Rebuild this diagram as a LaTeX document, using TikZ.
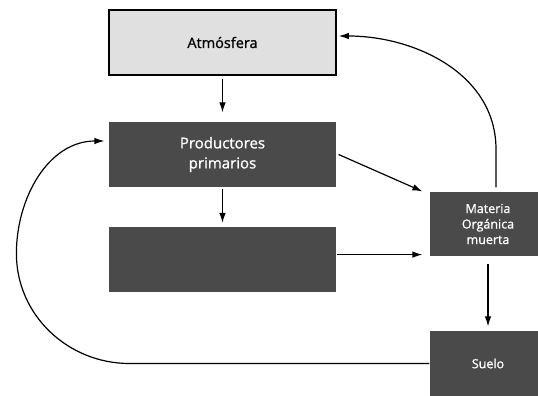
\documentclass[tikz,border=0pt]{standalone}
\usepackage{fontspec}
\setmainfont{Open Sans}[RawFeature={embolden=1}]
\usetikzlibrary{arrows.meta}

\begin{document}
\begin{tikzpicture}[x=1pt,y=1pt,line width=1.2pt,
  >={Latex[length=10pt,width=6.5pt]},
  caja/.style={fill=black!71,text=white,inner sep=0pt,align=center},
  ancha/.style={caja,minimum width=227pt,minimum height=65pt,font=\fontsize{15}{20}\selectfont},
  chica/.style={caja,minimum width=116pt,minimum height=65pt,font=\fontsize{12.5}{15.5}\selectfont}]
  \useasboundingbox (0,0) rectangle (538,396);
  \node[draw,fill=black!12,line width=1.6pt,minimum width=227pt,minimum height=65pt,
    inner sep=0pt,font=\fontsize{14.5}{18}\selectfont] (atm) at (222.5,353.5) {Atmósfera};
  \node[ancha] (prod) at (222.5,241.5) {Productores\\primarios};
  \node[ancha] (cons) at (222.5,136) {};
  \node[chica,minimum height=64pt] (mat) at (488,172) {Materia\\Orgánica\\muerta};
  \node[chica] (suelo) at (488,32.5) {Suelo};
  \coordinate (m1) at ([yshift=2pt]mat.south west);
\draw[->, shorten <=3pt, shorten >=9pt] (atm) -- (prod);
\draw[->, shorten <=1pt, shorten >=4pt] (prod) -- (cons);
\draw[->] ([xshift=2pt]prod.east) -- ([xshift=-7pt]mat.north west);
\draw[->, shorten >=7pt] (cons.east |- m1) -- (m1);
\draw[->, shorten <=7pt, shorten >=4pt] (mat) -- (suelo);
\draw[->] ([xshift=8pt,yshift=4pt]mat.north) -- ++(0,38)
  to[out=90,in=0] ([xshift=2pt,yshift=6.5pt]atm.east);
\draw[->] (suelo.west) -- ++(-300,0) to[out=180,in=270] ++(-113,110)
  to[out=90,in=180] ([xshift=-4pt,yshift=13.5pt]prod.west);
\end{tikzpicture}
\end{document}
